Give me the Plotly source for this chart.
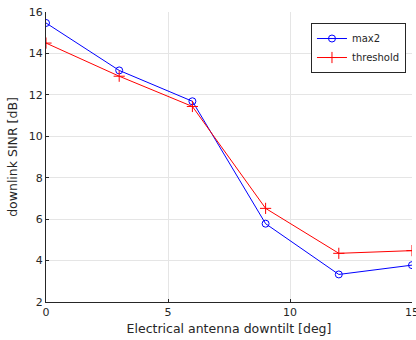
import plotly.graph_objects as go

tilt = [0, 3, 6, 9, 12, 15]
max2 = [15.47, 13.18, 11.69, 5.78, 3.33, 3.78]
threshold = [14.5, 12.9, 11.44, 6.52, 4.35, 4.48]

x_ticks = [0, 5, 10, 15]
y_ticks = [2, 4, 6, 8, 10, 12, 14, 16]

font = "DejaVu Sans"
dark = "#262626"

fig = go.Figure()
fig.add_trace(go.Scatter(
    x=tilt, y=max2, name="max2", mode="lines+markers",
    line=dict(color="#0000ff", width=1),
    marker=dict(symbol="circle-open", size=7, color="#0000ff", line=dict(width=1)),
))
fig.add_trace(go.Scatter(
    x=tilt, y=threshold, name="threshold", mode="lines+markers",
    line=dict(color="#ff0000", width=1),
    marker=dict(symbol="cross-thin-open", size=8, color="#ff0000", line=dict(width=1, color="#ff0000")),
))

fig.update_layout(
    width=416, height=340,
    margin=dict(l=46, r=4, t=12, b=38, autoexpand=False),
    paper_bgcolor="white", plot_bgcolor="white",
    font=dict(family=font, size=11, color=dark),
    showlegend=True,
    legend=dict(
        x=0.724, y=0.962, xanchor="left", yanchor="top",
        bordercolor=dark, borderwidth=1, bgcolor="white",
        font=dict(size=10, color=dark),
        tracegroupgap=0, itemwidth=30,
    ),
)
fig.update_xaxes(
    range=[0, 15], tickvals=x_ticks, ticks="inside", ticklen=3, tickcolor=dark,
    showline=True, linecolor=dark, linewidth=1, mirror=False, automargin=False,
    showgrid=True, gridcolor="#e5e5e5", gridwidth=1, zeroline=False,
    ticklabeloverflow="allow",
    title=dict(text="Electrical antenna downtilt [deg]", font=dict(size=12.5, color=dark), standoff=6),
    tickfont=dict(size=11, color=dark),
)
fig.update_yaxes(
    range=[2, 16], tickvals=y_ticks, ticks="inside", ticklen=3, tickcolor=dark,
    showline=True, linecolor=dark, linewidth=1, mirror=False, automargin=False,
    showgrid=True, gridcolor="#e5e5e5", gridwidth=1, zeroline=False,
    title=dict(text="downlink SINR [dB]", font=dict(size=12.5, color=dark), standoff=8),
    tickfont=dict(size=11, color=dark),
)

fig.write_html("out.html")
